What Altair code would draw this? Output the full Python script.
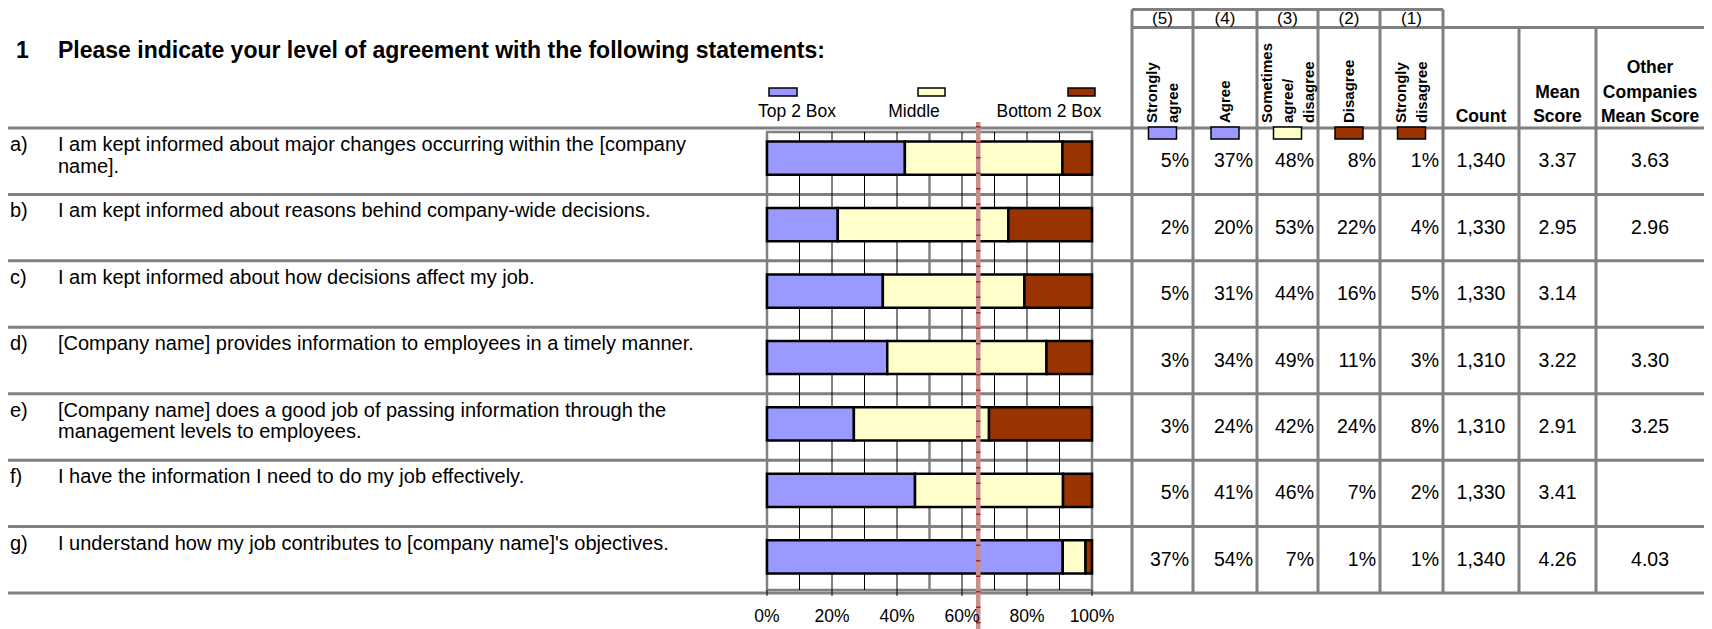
import altair as alt
import pandas as pd

# ---------------- data ----------------
letters = ["a)", "b)", "c)", "d)", "e)", "f)", "g)"]
statements = [
    "I am kept informed about major changes occurring within the [company\nname].",
    "I am kept informed about reasons behind company-wide decisions.",
    "I am kept informed about how decisions affect my job.",
    "[Company name] provides information to employees in a timely manner.",
    "[Company name] does a good job of passing information through the\nmanagement levels to employees.",
    "I have the information I need to do my job effectively.",
    "I understand how my job contributes to [company name]'s objectives.",
]
strongly_agree = [5, 2, 5, 3, 3, 5, 37]
agree = [37, 20, 31, 34, 24, 41, 54]
sometimes = [48, 53, 44, 49, 42, 46, 7]
disagree = [8, 22, 16, 11, 24, 7, 1]
strongly_disagree = [1, 4, 5, 3, 8, 2, 1]
counts = [1340, 1330, 1330, 1310, 1310, 1330, 1340]
mean_scores = [3.37, 2.95, 3.14, 3.22, 2.91, 3.41, 4.26]
other_means = [3.63, 2.96, None, 3.30, 3.25, None, 4.03]
benchmark = 0.65

title_num = "1"
title_text = "Please indicate your level of agreement with the following statements:"
groups = ["Top 2 Box", "Middle", "Bottom 2 Box"]
group_colors = ["#9999FF", "#FFFFCC", "#993300"]
scale_codes = ["(5)", "(4)", "(3)", "(2)", "(1)"]
scale_names = ["Strongly\nagree", "Agree", "Sometimes\nagree/\ndisagree", "Disagree", "Strongly\ndisagree"]
scale_groups = ["Top 2 Box", "Top 2 Box", "Middle", "Bottom 2 Box", "Bottom 2 Box"]
extra_headers = ["Count", "Mean\nScore", "Other\nCompanies\nMean Score"]
tick_values = [0, 0.2, 0.4, 0.6, 0.8, 1.0]

# ---------------- layout (pixels) ----------------
FONT = "Liberation Sans"
W, H = 1696, 621
ROW_TOP, ROW_BOTTOM = 120, 585
PLOT_X0, PLOT_X1 = 759, 1084
PLOT_Y0, PLOT_Y1 = 124, 582
col_edges = [1124, 1185, 1249, 1310, 1372, 1435, 1511, 1588, 1696]
GRAY = "#808080"
NAME_LH = 21
EXTRA_LH = 24.5

px_x = alt.Scale(domain=[0, W], range=[0, W], nice=False, zero=False)
px_y = alt.Scale(domain=[0, H], range=[0, H], nice=False, zero=False)
pct_x = alt.Scale(domain=[0, 1], range=[PLOT_X0, PLOT_X1], nice=False, zero=False)
row_y = alt.Scale(domain=[0, 7], range=[ROW_TOP, ROW_BOTTOM], nice=False, zero=False)
bar_y = alt.Scale(domain=letters, range=[ROW_TOP - 3, ROW_BOTTOM - 3], paddingInner=0.5, paddingOuter=0.25)
color_scale = alt.Scale(domain=groups, range=group_colors)

# ---------------- tables ----------------
n = len(letters)
bar_rows = []
for i in range(n):
    parts = [strongly_agree[i] + agree[i], sometimes[i], disagree[i] + strongly_disagree[i]]
    tot = sum(parts)
    start = 0.0
    for g, p in zip(groups, parts):
        bar_rows.append({"letter": letters[i], "group": g, "start": start / tot, "end": (start + p) / tot})
        start += p
bars_df = pd.DataFrame(bar_rows)

stmt_df = pd.DataFrame({"r": list(range(n)), "letter": letters, "text": statements})

pct_cols = [strongly_agree, agree, sometimes, disagree, strongly_disagree]
pct_rows = []
for c, vals in enumerate(pct_cols):
    for i, v in enumerate(vals):
        pct_rows.append({"x": col_edges[c + 1] - 4, "r": i + 0.5, "t": f"{v}%"})
pct_df = pd.DataFrame(pct_rows)

ctr_rows = []
for i in range(n):
    ctr_rows.append({"x": (col_edges[5] + col_edges[6]) / 2, "r": i + 0.5, "t": f"{counts[i]:,}"})
    ctr_rows.append({"x": (col_edges[6] + col_edges[7]) / 2, "r": i + 0.5, "t": f"{mean_scores[i]:.2f}"})
    if other_means[i] is not None:
        ctr_rows.append({"x": (col_edges[7] + col_edges[8]) / 2, "r": i + 0.5, "t": f"{other_means[i]:.2f}"})
ctr_df = pd.DataFrame(ctr_rows)

# header
centers = [(col_edges[c] + col_edges[c + 1]) / 2 for c in range(8)]
code_df = pd.DataFrame({
    "x": centers[:5], "code": scale_codes, "name": scale_names, "group": scale_groups,
})
code_df["x0"] = code_df["x"] - 14
code_df["x1"] = code_df["x"] + 14
code_df["nx"] = [cx - (s.count("\n")) * NAME_LH / 2 for cx, s in zip(centers[:5], scale_names)]
extra_df = pd.DataFrame({
    "x": centers[5:8], "t": extra_headers,
    "y": [118 - s.count("\n") * EXTRA_LH for s in extra_headers],
})

legend_df = pd.DataFrame({
    "group": groups,
    "sx0": [761, 910, 1060], "sx1": [789, 937, 1087],
    "lx": [789, 906, 1041],
})

vlines_df = pd.DataFrame({
    "x": col_edges[:8],
    "y0": [1.5] * 6 + [19.5] * 2,
    "y1": [ROW_BOTTOM] * 8,
})
hlines_df = pd.DataFrame({"y": [1.5, 19.5], "x0": [col_edges[0], col_edges[0]], "x1": [col_edges[5], W]})
rows_df = pd.DataFrame({"r": list(range(n + 1))})
grid_df = pd.DataFrame({"p": [0.1, 0.2, 0.3, 0.4, 0.6, 0.7, 0.8, 0.9]})
tick_df = pd.DataFrame({"p": tick_values, "t": [f"{int(round(v * 100))}%" for v in tick_values]})
bench_df = pd.DataFrame({"b": [benchmark]})
frame_df = pd.DataFrame({"a": [0.0], "b": [1.0]})

# ---------------- layers ----------------
row_lines = alt.Chart(rows_df).mark_rule(color=GRAY, strokeWidth=3).encode(
    y=alt.Y("r:Q", scale=row_y, axis=None), x=alt.value(0), x2=alt.value(W))

vlines = alt.Chart(vlines_df).mark_rule(color=GRAY, strokeWidth=3).encode(
    x=alt.X("x:Q", scale=px_x, axis=None),
    y=alt.Y("y0:Q", scale=px_y, axis=None), y2="y1:Q")

hlines = alt.Chart(hlines_df).mark_rule(color=GRAY, strokeWidth=3).encode(
    y=alt.Y("y:Q", scale=px_y, axis=None),
    x=alt.X("x0:Q", scale=px_x, axis=None), x2="x1:Q")

frame = alt.Chart(frame_df).mark_rect(fillOpacity=0, stroke=GRAY, strokeWidth=2.5).encode(
    x=alt.X("a:Q", scale=pct_x, axis=None), x2="b:Q",
    y=alt.value(PLOT_Y0), y2=alt.value(PLOT_Y1))

grid = alt.Chart(grid_df).mark_rule(color="black", strokeWidth=1).encode(
    x=alt.X("p:Q", scale=pct_x, axis=None), y=alt.value(PLOT_Y0), y2=alt.value(PLOT_Y1))

mid_grid = alt.Chart(pd.DataFrame({"p": [0.5]})).mark_rule(color=GRAY, strokeWidth=2.5).encode(
    x=alt.X("p:Q", scale=pct_x, axis=None), y=alt.value(PLOT_Y0), y2=alt.value(PLOT_Y1))

tick_marks = alt.Chart(tick_df).mark_rule(color="black", strokeWidth=1).encode(
    x=alt.X("p:Q", scale=pct_x, axis=None), y=alt.value(PLOT_Y1), y2=alt.value(PLOT_Y1 + 6))

bars = alt.Chart(bars_df).mark_bar(stroke="black", strokeWidth=2.5).encode(
    y=alt.Y("letter:N", scale=bar_y, axis=None),
    x=alt.X("start:Q", scale=pct_x, axis=None), x2="end:Q",
    color=alt.Color("group:N", scale=color_scale, legend=None))

bench = alt.Chart(bench_df).mark_rule(color="#c98f8f", strokeWidth=4.5).encode(
    x=alt.X("b:Q", scale=pct_x, axis=None), y=alt.value(114), y2=alt.value(H))
bench_dash = alt.Chart(bench_df).mark_rule(color="#9a2a2a", strokeWidth=4.5, strokeDash=[1.5, 14]).encode(
    x=alt.X("b:Q", scale=pct_x, axis=None), y=alt.value(118), y2=alt.value(H))

tick_labels = alt.Chart(tick_df).mark_text(font=FONT, fontSize=17.5, baseline="middle").encode(
    x=alt.X("p:Q", scale=pct_x, axis=None), y=alt.value(609), text="t:N")

legend_sw = alt.Chart(legend_df).mark_rect(stroke="black", strokeWidth=1.5).encode(
    x=alt.X("sx0:Q", scale=px_x, axis=None), x2="sx1:Q",
    y=alt.value(80), y2=alt.value(88),
    color=alt.Color("group:N", scale=color_scale, legend=None))
legend_lb = alt.Chart(legend_df).mark_text(font=FONT, fontSize=17.5, baseline="middle").encode(
    x=alt.X("lx:Q", scale=px_x, axis=None), y=alt.value(104), text="group:N")

title1 = alt.Chart(pd.DataFrame({"t": [title_num]})).mark_text(
    font=FONT, fontSize=23, fontWeight="bold", align="left", baseline="middle").encode(
    x=alt.value(8), y=alt.value(43), text="t:N")
title2 = alt.Chart(pd.DataFrame({"t": [title_text]})).mark_text(
    font=FONT, fontSize=23, fontWeight="bold", align="left", baseline="middle").encode(
    x=alt.value(50), y=alt.value(43), text="t:N")

stmt_letters = alt.Chart(stmt_df).mark_text(
    font=FONT, fontSize=20, align="left", baseline="top", dy=7).encode(
    x=alt.value(2), y=alt.Y("r:Q", scale=row_y, axis=None), text="letter:N")
stmt_text = alt.Chart(stmt_df).mark_text(
    font=FONT, fontSize=20, align="left", baseline="top", dy=7, lineBreak="\n", lineHeight=21.5).encode(
    x=alt.value(50), y=alt.Y("r:Q", scale=row_y, axis=None), text="text:N")

pct_text = alt.Chart(pct_df).mark_text(font=FONT, fontSize=19.5, align="right", baseline="middle").encode(
    x=alt.X("x:Q", scale=px_x, axis=None), y=alt.Y("r:Q", scale=row_y, axis=None), text="t:N")
ctr_text = alt.Chart(ctr_df).mark_text(font=FONT, fontSize=19.5, align="center", baseline="middle").encode(
    x=alt.X("x:Q", scale=px_x, axis=None), y=alt.Y("r:Q", scale=row_y, axis=None), text="t:N")

codes = alt.Chart(code_df).mark_text(font=FONT, fontSize=17, baseline="middle").encode(
    x=alt.X("x:Q", scale=px_x, axis=None), y=alt.value(10.5), text="code:N")
names = alt.Chart(code_df).mark_text(
    font=FONT, fontSize=15, fontWeight="bold", angle=270, align="left", baseline="middle",
    lineBreak="\n", lineHeight=NAME_LH).encode(
    x=alt.X("nx:Q", scale=px_x, axis=None), y=alt.value(115), text="name:N")
code_sw = alt.Chart(code_df).mark_rect(stroke="black", strokeWidth=1.5).encode(
    x=alt.X("x0:Q", scale=px_x, axis=None), x2="x1:Q",
    y=alt.value(119), y2=alt.value(131),
    color=alt.Color("group:N", scale=color_scale, legend=None))
extras = alt.Chart(extra_df).mark_text(
    font=FONT, fontSize=17.5, fontWeight="bold", baseline="bottom", lineBreak="\n", lineHeight=EXTRA_LH).encode(
    x=alt.X("x:Q", scale=px_x, axis=None), y=alt.Y("y:Q", scale=px_y, axis=None), text="t:N")

chart = alt.layer(
    row_lines, vlines, hlines, frame, grid, mid_grid, tick_marks, bars, bench, bench_dash,
    tick_labels, legend_sw, legend_lb, title1, title2, stmt_letters, stmt_text,
    pct_text, ctr_text, codes, names, code_sw, extras,
).resolve_scale(
    x="independent", y="independent", color="independent"
).properties(
    width=W, height=H, padding=0, autosize=alt.AutoSizeParams(type="none")
).configure_view(stroke=None)

chart.save("out.html", embed_options={"renderer": "svg", "actions": False})
